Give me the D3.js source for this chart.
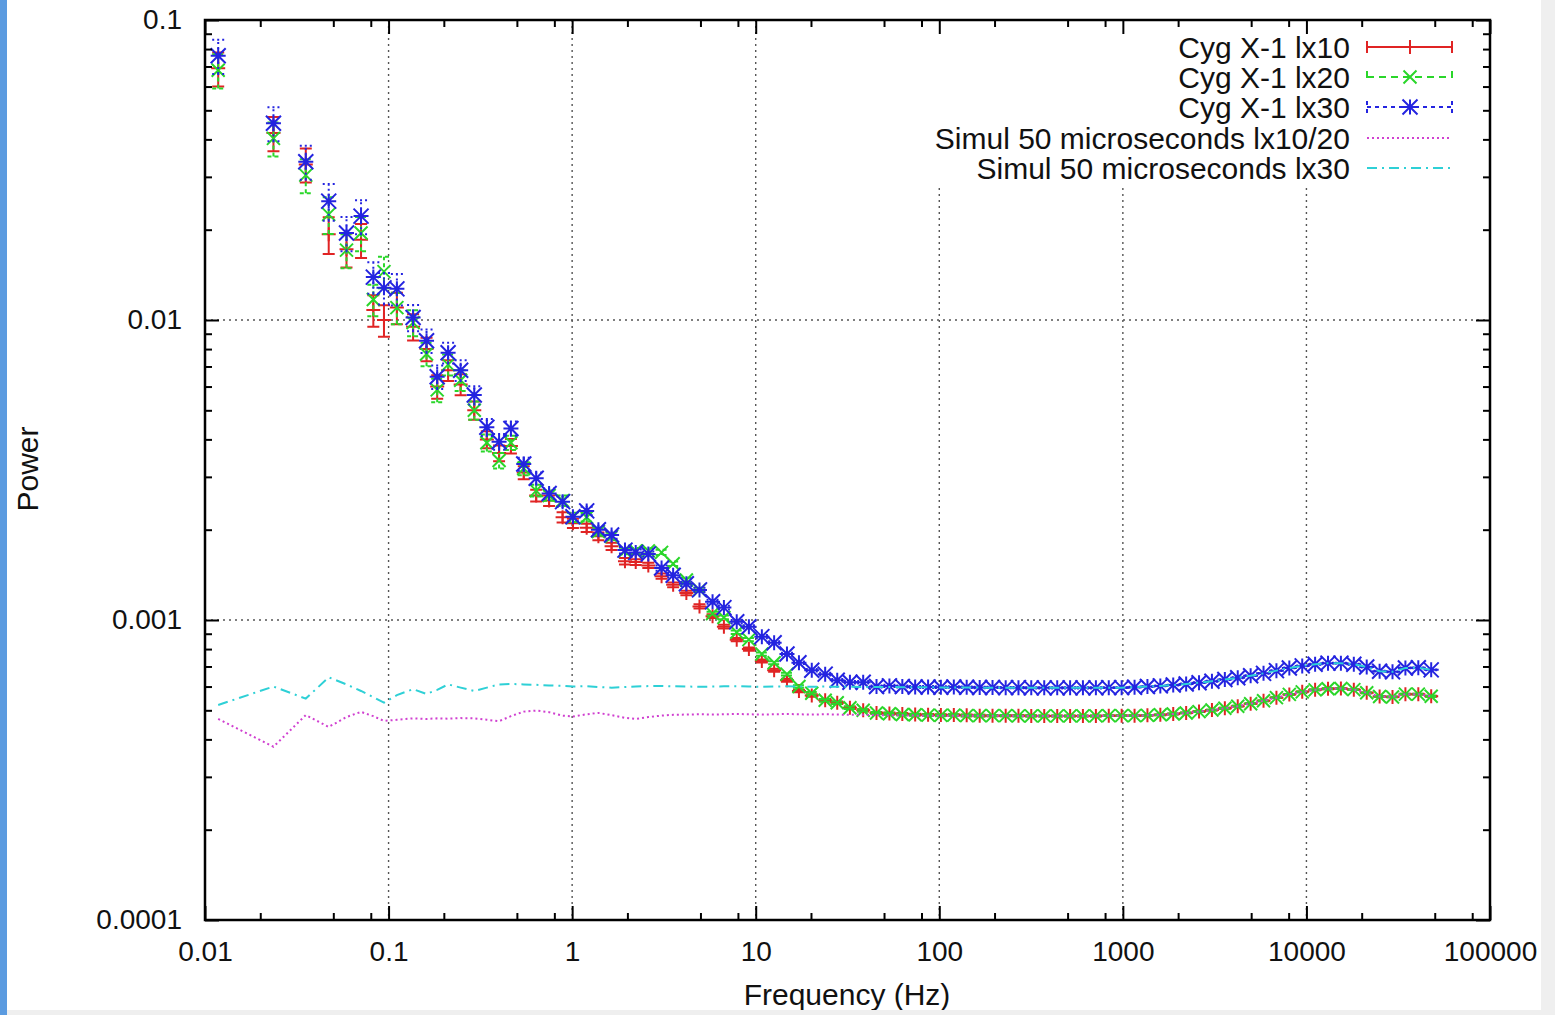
<!DOCTYPE html>
<html>
<head>
<meta charset="utf-8">
<script src="https://cdn.jsdelivr.net/npm/d3@7"></script>
<style>
  html, body { margin: 0; padding: 0; background: #ffffff; }
  svg { display: block; font-family: "Liberation Sans", Arial, Helvetica, sans-serif; }
</style>
</head>
<body>
<svg id="chart" width="1555" height="1015"></svg>
<script>
// Frequencies (Hz) of the power-spectrum bins
const freq = [
  0.0118, 0.0236, 0.0354, 0.0472, 0.059, 0.0708, 0.0826, 0.0944, 0.111,
  0.136, 0.161, 0.184, 0.211, 0.247, 0.293, 0.343, 0.40, 0.464,
  0.545, 0.637, 0.749, 0.887, 1.01, 1.20, 1.39, 1.64, 1.94, 2.22, 2.60, 3.07,
  3.55, 4.19, 4.94, 5.82, 6.71, 7.88, 9.18, 10.8, 12.6, 14.8,
  17.2, 20.2, 23.9, 27.8, 32.6, 38.5, 45.5,
  53.5, 62.9, 73.9, 86.9, 102, 120, 141, 166, 195, 230,
  270, 317, 373, 439, 516, 606, 713, 838, 985, 1158,
  1361, 1600, 1881, 2212, 2600, 3057, 3594, 4225, 4967, 5839,
  6864, 8070, 9487, 11150, 13110, 15410, 18120, 21300, 25040, 29440,
  34610, 40690, 47830
];

// Cyg X-1 power, lx10
const cygLx10 = [
  0.069, 0.042, 0.033, 0.0193, 0.0172, 0.0185, 0.0108, 0.0100, 0.0110,
  0.0095, 0.0080, 0.0060, 0.0068, 0.0061, 0.0050, 0.0040, 0.0036, 0.0038,
  0.0031, 0.0026, 0.0025, 0.0022, 0.0021, 0.00203, 0.0019, 0.00176, 0.00157, 0.00156, 0.00152, 0.0014,
  0.00131, 0.00123, 0.00111, 0.00103, 0.00095, 0.00086, 0.0008, 0.00073, 0.00068, 0.00063,
  0.00058, 0.00056, 0.00054, 0.00053, 0.00051, 0.0005, 0.00049,
  0.000488, 0.000486, 0.000484, 0.000483, 0.000482, 0.000482, 0.000481, 0.00048, 0.00048, 0.00048,
  0.00048, 0.000479, 0.000479, 0.000479, 0.000479, 0.000479, 0.000479, 0.00048, 0.00048, 0.00048,
  0.000481, 0.000483, 0.000486, 0.00049, 0.000495, 0.000501, 0.000508, 0.000516, 0.000526, 0.000538,
  0.000551, 0.000565, 0.000576, 0.000585, 0.00059, 0.000591, 0.000586, 0.000572, 0.000556, 0.000554,
  0.000566, 0.000566, 0.000557
];

// Cyg X-1 power, lx20
const cygLx20 = [
  0.068, 0.0403, 0.0304, 0.0225, 0.0171, 0.0195, 0.0117, 0.0145, 0.0110,
  0.0098, 0.0077, 0.00585, 0.0071, 0.0063, 0.0050, 0.0039, 0.0034, 0.0039,
  0.0032, 0.0027, 0.0026, 0.0025, 0.0022, 0.0022, 0.00197, 0.0019, 0.0017, 0.0017, 0.0017, 0.00168,
  0.00154, 0.00136, 0.00126, 0.00105, 0.00102, 0.00091, 0.00086, 0.00077, 0.00072, 0.00066,
  0.0006, 0.00057, 0.00054, 0.00053, 0.00051, 0.0005, 0.00049,
  0.000487, 0.000484, 0.000483, 0.000482, 0.000481, 0.000482, 0.00048, 0.00048, 0.00048, 0.00048,
  0.000479, 0.000479, 0.000479, 0.000479, 0.000479, 0.000479, 0.000479, 0.00048, 0.00048, 0.00048,
  0.000481, 0.000483, 0.000486, 0.00049, 0.000495, 0.000501, 0.000508, 0.000516, 0.000526, 0.000538,
  0.000551, 0.000565, 0.000576, 0.000585, 0.00059, 0.000591, 0.000586, 0.000572, 0.000556, 0.000554,
  0.000566, 0.000566, 0.000557
];

// Cyg X-1 power, lx30
const cygLx30 = [
  0.076, 0.0453, 0.0337, 0.0249, 0.0195, 0.0222, 0.0139, 0.0128, 0.0127,
  0.0102, 0.00853, 0.00647, 0.00778, 0.0068, 0.00562, 0.00439, 0.00393, 0.00435,
  0.00331, 0.00297, 0.00264, 0.00248, 0.00221, 0.00231, 0.0020, 0.00192, 0.00171, 0.00168, 0.00166, 0.00149,
  0.00141, 0.00132, 0.00126, 0.00115, 0.0011, 0.000987, 0.00095, 0.00088, 0.00084, 0.00077,
  0.00072, 0.00068, 0.00066, 0.00063, 0.00062, 0.00062, 0.0006,
  0.000603, 0.0006, 0.000598, 0.000598, 0.000597, 0.000598, 0.000597, 0.000596, 0.000596, 0.000595,
  0.000595, 0.000594, 0.000594, 0.000594, 0.000594, 0.000594, 0.000594, 0.000595, 0.000595, 0.000597,
  0.0006, 0.000603, 0.000607, 0.000612, 0.000618, 0.000625, 0.000633, 0.000642, 0.000652, 0.000664,
  0.000678, 0.000692, 0.000703, 0.000712, 0.000718, 0.000718, 0.000712, 0.000697, 0.000675, 0.000672,
  0.000692, 0.000693, 0.000682
];

// Relative 1-sigma error of each bin (shared by the three observations)
const errFrac = [
  0.13, 0.13, 0.13, 0.14, 0.13, 0.13, 0.12, 0.12, 0.12,
  0.10, 0.09, 0.09, 0.08, 0.08, 0.07, 0.065, 0.06, 0.055,
  0.05, 0.045, 0.04, 0.04, 0.035, 0.032, 0.03, 0.028, 0.025, 0.022, 0.02, 0.02,
  0.018, 0.017, 0.016, 0.015, 0.014, 0.013, 0.012, 0.012, 0.011, 0.011,
  0.01, 0.01, 0.01, 0.009, 0.009, 0.009, 0.008,
  0.008, 0.008, 0.007, 0.007, 0.007, 0.006, 0.006, 0.006, 0.005, 0.005,
  0.005, 0.005, 0.004, 0.004, 0.004, 0.004, 0.004, 0.003, 0.003, 0.003,
  0.003, 0.003, 0.003, 0.003, 0.003, 0.003, 0.003, 0.003, 0.003, 0.003,
  0.003, 0.003, 0.003, 0.003, 0.003, 0.003, 0.003, 0.003, 0.003, 0.003,
  0.003, 0.003, 0.003
];

// Simulated spectra, 50 microsecond resolution
const simLx1020 = [
  0.000468, 0.000378, 0.000482, 0.00044, 0.000475, 0.000494, 0.000478, 0.000461, 0.000465,
  0.00047, 0.000468, 0.00047, 0.000469, 0.000471, 0.00047, 0.000465, 0.00046, 0.000478,
  0.000495, 0.000499, 0.000493, 0.00048, 0.000477, 0.000485, 0.00049, 0.000482, 0.000472, 0.000468, 0.000475, 0.00048,
  0.000483, 0.000484, 0.000485, 0.000484, 0.000485, 0.000486, 0.000485, 0.000484, 0.000485, 0.000486,
  0.000485, 0.000484, 0.000485, 0.000484, 0.000483, 0.000483, 0.000482,
  0.000481, 0.000481, 0.00048, 0.00048, 0.00048, 0.00048, 0.00048, 0.00048, 0.00048, 0.00048,
  0.000479, 0.000479, 0.000479, 0.000479, 0.000479, 0.000479, 0.000479, 0.00048, 0.00048, 0.00048,
  0.000481, 0.000483, 0.000486, 0.00049, 0.000495, 0.000501, 0.000508, 0.000516, 0.000526, 0.000538,
  0.000551, 0.000565, 0.000576, 0.000585, 0.00059, 0.000591, 0.000586, 0.000572, 0.000556, 0.000554,
  0.000566, 0.000566, 0.000557
];

const simLx30 = [
  0.000521, 0.0006, 0.000547, 0.000644, 0.00061, 0.00058, 0.000553, 0.00053, 0.000562,
  0.000588, 0.000567, 0.000585, 0.00061, 0.000595, 0.00058, 0.000595, 0.00061, 0.000612,
  0.00061, 0.000608, 0.000605, 0.000603, 0.0006, 0.000602, 0.000598, 0.000595, 0.000598, 0.0006, 0.000602, 0.000603,
  0.000601, 0.0006, 0.000599, 0.0006, 0.000601, 0.000602, 0.0006, 0.000599, 0.0006, 0.000601,
  0.0006, 0.000599, 0.0006, 0.000599, 0.000599, 0.000598, 0.000598,
  0.000598, 0.000597, 0.000597, 0.000597, 0.000596, 0.000596, 0.000596, 0.000595, 0.000595, 0.000595,
  0.000595, 0.000594, 0.000594, 0.000594, 0.000594, 0.000594, 0.000594, 0.000595, 0.000595, 0.000597,
  0.0006, 0.000603, 0.000607, 0.000612, 0.000618, 0.000625, 0.000633, 0.000642, 0.000652, 0.000664,
  0.000678, 0.000692, 0.000703, 0.000712, 0.000718, 0.000718, 0.000712, 0.000697, 0.000675, 0.000672,
  0.000692, 0.000693, 0.000682
];

// Axis tick labels
const xTickLabels = ["0.01", "0.1", "1", "10", "100", "1000", "10000", "100000"];
const yTickLabels = ["0.0001", "0.001", "0.01", "0.1"];

// Legend entries
const legendLabels = [
  "Cyg X-1 lx10",
  "Cyg X-1 lx20",
  "Cyg X-1 lx30",
  "Simul 50 microseconds lx10/20",
  "Simul 50 microseconds lx30"
];

const svg = d3.select("#chart");
const W = 1555, H = 1015;
const plot = { left: 205, right: 1490, top: 20, bottom: 920 };

const x = d3.scaleLog().domain([0.01, 100000]).range([plot.left, plot.right]);
const y = d3.scaleLog().domain([0.0001, 0.1]).range([plot.bottom, plot.top]);

const xMajors = xTickLabels.map(Number);
const yMajors = yTickLabels.map(Number);
const xMinors = [];
for (let d = 0; d < xMajors.length - 1; d++) {
  [2, 5, 8].forEach(m => xMinors.push(xMajors[d] * m));
}
const yMinors = [];
for (let d = 0; d < yMajors.length - 1; d++) {
  for (let m = 2; m <= 9; m++) yMinors.push(yMajors[d] * m);
}

const colors = {
  red: "#e02424",
  green: "#2ad62a",
  blue: "#2424e0",
  magenta: "#d040d0",
  cyan: "#2ed0d6"
};

// ---- grid ----
const grid = svg.append("g").attr("class", "grid")
  .attr("stroke", "#555").attr("stroke-width", 1.4).attr("stroke-dasharray", "2,4");
grid.selectAll("line.gx").data(xMajors.slice(1, -1)).join("line")
  .attr("x1", d => x(d)).attr("x2", d => x(d))
  .attr("y1", plot.top).attr("y2", plot.bottom);
grid.selectAll("line.gy").data(yMajors.slice(1, -1)).join("line")
  .attr("x1", plot.left).attr("x2", plot.right)
  .attr("y1", d => y(d)).attr("y2", d => y(d));

// ---- data ----
const dataG = svg.append("g");

function markerPath(kind, s) {
  const h = s / 2;
  const plus = `M${-h},0H${h}M0,${-h}V${h}`;
  const times = `M${-h},${-h}L${h},${h}M${-h},${h}L${h},${-h}`;
  if (kind === "plus") return plus;
  if (kind === "times") return times;
  return plus + times;
}

function drawErrorSeries(values, color, dash, kind, size) {
  const g = dataG.append("g").attr("stroke", color).attr("stroke-width", 2).attr("fill", "none");
  const pts = freq.map((f, i) => ({ f, v: values[i], e: errFrac[i] }));
  const cap = 6;
  const bars = g.append("g").attr("stroke-dasharray", dash);
  bars.selectAll("path").data(pts).join("path")
    .attr("d", d => {
      const cx = x(d.f), y0 = y(d.v * (1 - d.e)), y1 = y(d.v * (1 + d.e));
      return `M${cx},${y0}V${y1}M${cx - cap},${y0}H${cx + cap}M${cx - cap},${y1}H${cx + cap}`;
    });
  g.append("g").selectAll("path").data(pts).join("path")
    .attr("transform", d => `translate(${x(d.f)},${y(d.v)})`)
    .attr("d", markerPath(kind, size));
}

drawErrorSeries(cygLx10, colors.red, null, "plus", 14);
drawErrorSeries(cygLx20, colors.green, "4,3", "times", 13);
drawErrorSeries(cygLx30, colors.blue, "2,3", "star", 15);

const line = d3.line().x((d, i) => x(freq[i])).y(d => y(d));
dataG.append("path").datum(simLx1020)
  .attr("fill", "none").attr("stroke", colors.magenta).attr("stroke-width", 2)
  .attr("stroke-dasharray", "2,3").attr("d", line);
dataG.append("path").datum(simLx30)
  .attr("fill", "none").attr("stroke", colors.cyan).attr("stroke-width", 2)
  .attr("stroke-dasharray", "10,5,2,5").attr("d", line);

// ---- legend ----
const legend = svg.append("g");
legend.append("rect")
  .attr("x", 926).attr("y", plot.top + 1)
  .attr("width", plot.right - 926 - 1).attr("height", 163)
  .attr("fill", "#fff");
const rowY = [47, 77, 107, 138, 168];
const sx0 = 1367, sx1 = 1452, smid = 1410;
legendLabels.forEach((lab, i) => {
  legend.append("text")
    .attr("x", 1350).attr("y", rowY[i]).attr("dy", "0.35em")
    .attr("text-anchor", "end").attr("font-size", 30).attr("fill", "#111")
    .text(lab);
});
const legendStyles = [
  { c: colors.red, dash: null, kind: "plus", s: 14 },
  { c: colors.green, dash: "7,5", kind: "times", s: 13 },
  { c: colors.blue, dash: "4,4", kind: "star", s: 15 }
];
legendStyles.forEach((st, i) => {
  const g = legend.append("g").attr("stroke", st.c).attr("stroke-width", 2).attr("fill", "none");
  const yy = rowY[i];
  g.append("path").attr("stroke-dasharray", st.dash)
    .attr("d", `M${sx0},${yy}H${sx1}M${sx0},${yy - 6}V${yy + 6}M${sx1},${yy - 6}V${yy + 6}`);
  g.append("path").attr("transform", `translate(${smid},${yy})`).attr("d", markerPath(st.kind, st.s));
});
legend.append("line").attr("x1", sx0).attr("x2", sx1).attr("y1", rowY[3]).attr("y2", rowY[3])
  .attr("stroke", colors.magenta).attr("stroke-width", 2).attr("stroke-dasharray", "2,3");
legend.append("line").attr("x1", sx0).attr("x2", sx1).attr("y1", rowY[4]).attr("y2", rowY[4])
  .attr("stroke", colors.cyan).attr("stroke-width", 2).attr("stroke-dasharray", "10,5,2,5");

// ---- axes ----
const fmtX = d => xTickLabels[xMajors.indexOf(d)];
const fmtY = d => yTickLabels[yMajors.indexOf(d)];

function styleAxis(g) {
  g.select(".domain").remove();
  g.selectAll(".tick line").attr("stroke", "#000").attr("stroke-width", 2);
  g.selectAll(".tick text").attr("fill", "#111").attr("font-size", 28)
    .attr("font-family", "Liberation Sans, Arial, Helvetica, sans-serif");
}

svg.append("g").attr("transform", `translate(0,${plot.bottom})`)
  .call(d3.axisBottom(x).tickValues(xMajors).tickFormat(fmtX).tickSize(-14).tickPadding(21))
  .call(styleAxis);
svg.append("g").attr("transform", `translate(0,${plot.bottom})`)
  .call(d3.axisBottom(x).tickValues(xMinors).tickFormat("").tickSize(-7))
  .call(styleAxis);
svg.append("g").attr("transform", `translate(0,${plot.top})`)
  .call(d3.axisTop(x).tickValues(xMajors).tickFormat("").tickSize(-14))
  .call(styleAxis);
svg.append("g").attr("transform", `translate(0,${plot.top})`)
  .call(d3.axisTop(x).tickValues(xMinors).tickFormat("").tickSize(-7))
  .call(styleAxis);

svg.append("g").attr("transform", `translate(${plot.left},0)`)
  .call(d3.axisLeft(y).tickValues(yMajors).tickFormat(fmtY).tickSize(-14).tickPadding(23))
  .call(styleAxis);
svg.append("g").attr("transform", `translate(${plot.left},0)`)
  .call(d3.axisLeft(y).tickValues(yMinors).tickFormat("").tickSize(-7))
  .call(styleAxis);
svg.append("g").attr("transform", `translate(${plot.right},0)`)
  .call(d3.axisRight(y).tickValues(yMajors).tickFormat("").tickSize(-14))
  .call(styleAxis);
svg.append("g").attr("transform", `translate(${plot.right},0)`)
  .call(d3.axisRight(y).tickValues(yMinors).tickFormat("").tickSize(-7))
  .call(styleAxis);

// frame
svg.append("rect")
  .attr("x", plot.left).attr("y", plot.top)
  .attr("width", plot.right - plot.left).attr("height", plot.bottom - plot.top)
  .attr("fill", "none").attr("stroke", "#000").attr("stroke-width", 2.5);

// axis titles
svg.append("text")
  .attr("x", 847).attr("y", 1005)
  .attr("text-anchor", "middle").attr("font-size", 30).attr("fill", "#111")
  .text("Frequency (Hz)");
svg.append("text")
  .attr("transform", "translate(38,469) rotate(-90)")
  .attr("text-anchor", "middle").attr("font-size", 30).attr("fill", "#111")
  .text("Power");

// page edges
svg.append("rect").attr("x", 1541).attr("y", 0).attr("width", W - 1541).attr("height", H).attr("fill", "#efefef");
svg.append("rect").attr("x", 0).attr("y", 1010).attr("width", W).attr("height", H - 1010).attr("fill", "#efefef");
svg.append("rect").attr("x", 0).attr("y", 0).attr("width", 7).attr("height", H).attr("fill", "#5b9be0");
</script>
</body>
</html>
